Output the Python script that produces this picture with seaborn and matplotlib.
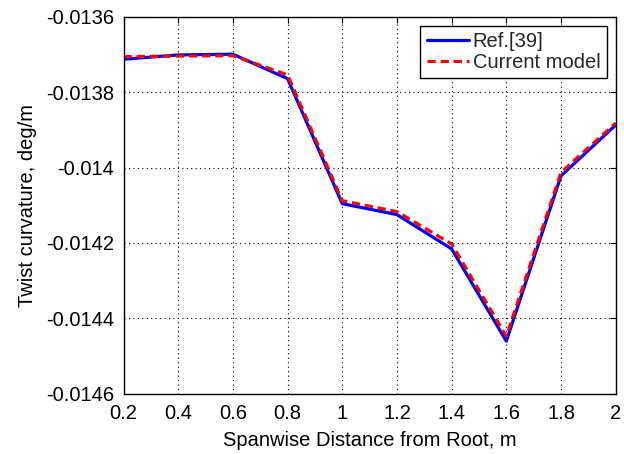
import matplotlib
matplotlib.use("Agg")
import matplotlib.pyplot as plt
import seaborn as sns
import pandas as pd

# Spanwise stations (m) and twist curvature (deg/m)
span = [0.2, 0.4, 0.6, 0.8, 1.0, 1.2, 1.4, 1.6, 1.8, 2.0]
ref_39 = [-0.0137125, -0.013701, -0.013699, -0.013764, -0.014096,
          -0.014125, -0.014216, -0.014461, -0.014022, -0.013887]
current_model = [-0.0137056, -0.013704, -0.013703, -0.013754, -0.014088,
                 -0.014117, -0.014203, -0.014448, -0.014013, -0.013882]

x_ticks = [0.2, 0.4, 0.6, 0.8, 1.0, 1.2, 1.4, 1.6, 1.8, 2.0]
x_tick_labels = ["0.2", "0.4", "0.6", "0.8", "1", "1.2", "1.4", "1.6", "1.8", "2"]
y_ticks = [-0.0146, -0.0144, -0.0142, -0.014, -0.0138, -0.0136]
y_tick_labels = ["-0.0146", "-0.0144", "-0.0142", "-0.014", "-0.0138", "-0.0136"]

df = pd.DataFrame({
    "span": span * 2,
    "curv": ref_39 + current_model,
    "series": ["Ref.[39]"] * len(span) + ["Current model"] * len(span),
})

sns.set_theme(style="white")
plt.rcParams["font.family"] = ["Liberation Sans", "DejaVu Sans"]

fig = plt.figure(figsize=(6.24, 4.54), dpi=100)
ax = fig.add_axes([123.5 / 624, 1 - 393.5 / 454, (615.7 - 123.5) / 624, (393.5 - 16.9) / 454])

sns.lineplot(data=df, x="span", y="curv", hue="series", style="series",
             palette={"Ref.[39]": "#0000ff", "Current model": "#ff0000"},
             dashes={"Ref.[39]": "", "Current model": (2.6, 1.5)},
             linewidth=2.3, ax=ax, sort=False)

ax.set_xlim(0.2, 2.0)
ax.set_ylim(-0.0146, -0.0136)
ax.set_xticks(x_ticks)
ax.set_xticklabels(x_tick_labels)
ax.set_yticks(y_ticks)
ax.set_yticklabels(y_tick_labels)

ax.grid(True, color="black", linestyle=(0, (1, 3)), linewidth=0.8)
ax.tick_params(direction="in", length=4, width=0.8, top=True, right=True,
               labelsize=14.5, colors="black")
ax.tick_params(axis="x", pad=7.5)
ax.tick_params(axis="y", pad=7)
for s in ax.spines.values():
    s.set_color("black")
    s.set_linewidth(1.0)

ax.set_xlabel("Spanwise Distance from Root, m", fontsize=14.5, color="black", labelpad=6)
ax.set_ylabel("Twist curvature, deg/m", fontsize=14.5, color="black", labelpad=6)

leg = ax.legend(loc="upper right", fontsize=14.5, frameon=True, fancybox=False,
                edgecolor="black", framealpha=1, handlelength=2.1,
                handletextpad=0.2, borderaxespad=0.45, borderpad=0.3,
                labelspacing=0.1)
leg.get_frame().set_linewidth(1.0)

fig.savefig("out.png", dpi=100)
